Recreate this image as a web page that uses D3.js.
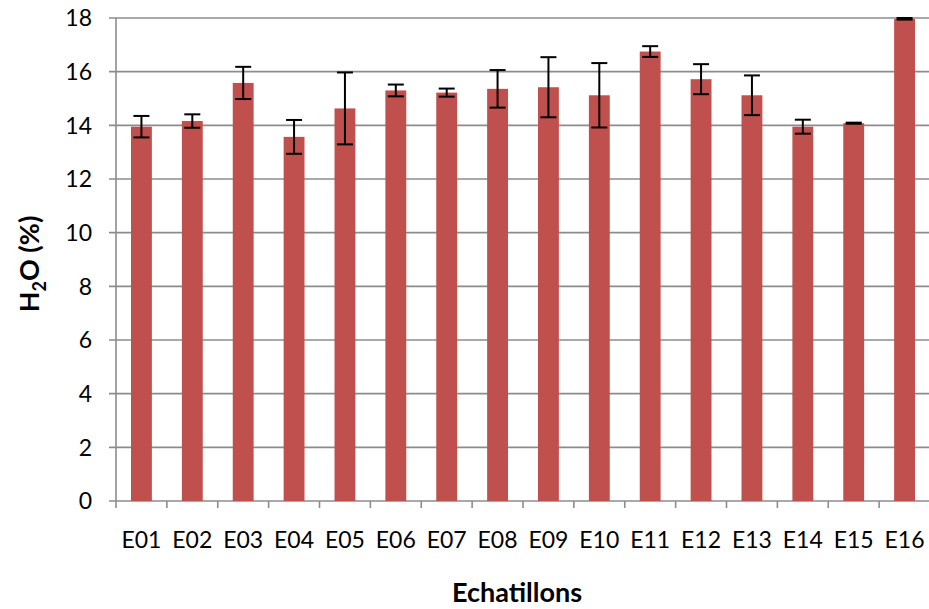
<!DOCTYPE html>
<html><head><meta charset="utf-8">
<script src="https://cdn.jsdelivr.net/npm/d3@7"></script>
<style>body{margin:0;background:#fff}svg{display:block}text{font-family:Lato,"Open Sans",sans-serif}</style>
</head><body>
<svg id="c" width="929" height="609"></svg>
<script>
const categories = ["E01","E02","E03","E04","E05","E06","E07","E08","E09","E10","E11","E12","E13","E14","E15","E16"];
const values = [13.95,14.16,15.58,13.57,14.63,15.3,15.22,15.36,15.42,15.12,16.75,15.72,15.12,13.95,14.08,17.97];
const errors = [0.4,0.25,0.6,0.63,1.34,0.22,0.15,0.7,1.12,1.2,0.2,0.56,0.74,0.26,0.02,0.03];
const yTicks = [0,2,4,6,8,10,12,14,16,18];

const svg = d3.select("#c");
const x0 = 116, x1 = 930, yBottom = 501, yTop = 18;
const x = d3.scaleBand().domain(categories).range([x0, x1]).paddingInner(0.59).paddingOuter(0.295);
const y = d3.scaleLinear().domain([0, 18]).range([yBottom, yTop]);
const grid = "#8c8c8c";

// gridlines
svg.append("g").selectAll("line").data(yTicks).join("line")
  .attr("x1", x0 - 7).attr("x2", x1).attr("y1", d => y(d)).attr("y2", d => y(d))
  .attr("stroke", grid).attr("stroke-width", 1.6);

// y axis line
svg.append("line").attr("x1", x0).attr("x2", x0).attr("y1", yTop).attr("y2", yBottom + 0.8)
  .attr("stroke", grid).attr("stroke-width", 1.6);

// x ticks at category boundaries
const bounds = d3.range(categories.length + 1).map(i => x0 + i * x.step());
svg.append("g").selectAll("line").data(bounds).join("line")
  .attr("x1", d => d).attr("x2", d => d).attr("y1", yBottom).attr("y2", yBottom + 7)
  .attr("stroke", grid).attr("stroke-width", 1.6);

// y tick labels
svg.append("g").selectAll("text").data(yTicks).join("text")
  .attr("x", 92).attr("y", d => y(d)).attr("dy", "0.36em").attr("text-anchor", "end")
  .attr("font-size", 23).attr("fill", "#000").text(d => d);

// x tick labels
svg.append("g").selectAll("text").data(categories).join("text")
  .attr("x", d => x(d) + x.bandwidth() / 2).attr("y", 548).attr("text-anchor", "middle")
  .attr("font-size", 23).attr("fill", "#000").text(d => d);

// bars
svg.append("g").selectAll("rect").data(categories).join("rect")
  .attr("x", d => x(d)).attr("width", x.bandwidth())
  .attr("y", (d, i) => y(values[i])).attr("height", (d, i) => y(0) - y(values[i]))
  .attr("fill", "#C0504D");

// error bars
const eb = svg.append("g").attr("stroke", "#000").attr("stroke-width", 2);
categories.forEach((c, i) => {
  const cx = x(c) + x.bandwidth() / 2;
  const hi = y(Math.min(18, values[i] + errors[i])), lo = y(values[i] - errors[i]);
  eb.append("line").attr("x1", cx).attr("x2", cx).attr("y1", hi).attr("y2", lo);
  eb.append("line").attr("x1", cx - 8).attr("x2", cx + 8).attr("y1", hi).attr("y2", hi);
  eb.append("line").attr("x1", cx - 8).attr("x2", cx + 8).attr("y1", lo).attr("y2", lo);
});

// axis titles
svg.append("text").attr("x", 517).attr("y", 602).attr("text-anchor", "middle")
  .attr("font-size", 27).attr("font-weight", "bold").text("Echatillons");
const yl = svg.append("text").attr("transform", "translate(39,264) rotate(-90)")
  .attr("text-anchor", "middle").attr("font-size", 27).attr("font-weight", "bold");
yl.append("tspan").text("H");
yl.append("tspan").attr("font-size", 18).attr("dy", 7).text("2");
yl.append("tspan").attr("dy", -7).text("O (%)");
</script>
</body></html>
